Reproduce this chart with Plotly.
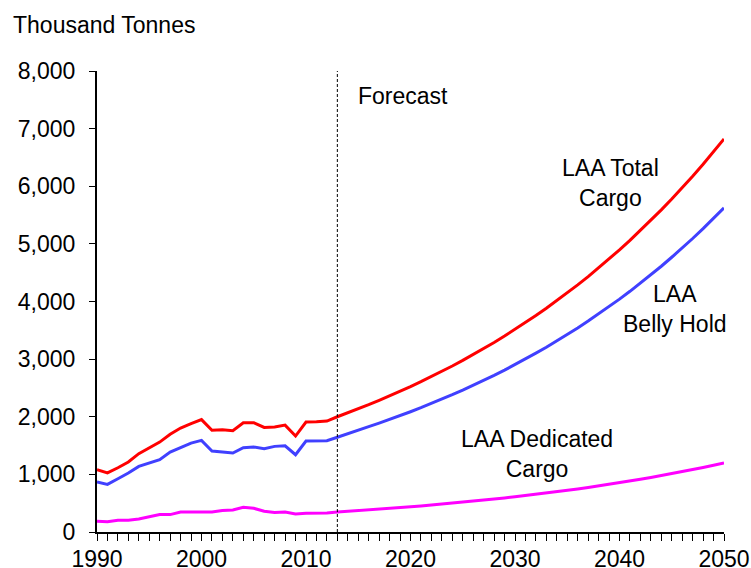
import plotly.graph_objects as go

years = list(range(1990, 2051))

total_cargo = [
    1080, 1025, 1115, 1215, 1360, 1460, 1560, 1695, 1805, 1880,
    1950, 1765, 1775, 1757, 1896, 1896, 1815, 1821, 1855, 1665,
    1908, 1913, 1925,
    2000, 2067, 2137, 2209, 2284, 2361, 2440, 2523, 2608, 2696,
    2787, 2881, 2978, 3078, 3182, 3289, 3400, 3515, 3633, 3756,
    3882, 4013, 4148, 4288, 4433, 4582, 4737, 4896, 5061, 5232,
    5408, 5590, 5779, 5973, 6175, 6383, 6598, 6820,
]

belly_hold = [
    867, 827, 925, 1023, 1139, 1197, 1254, 1387, 1462, 1543,
    1590, 1405, 1387, 1370, 1462, 1474, 1445, 1486, 1497, 1341,
    1578, 1584, 1584,
    1645, 1710, 1768, 1828, 1890, 1953, 2018, 2087, 2157, 2229,
    2304, 2382, 2462, 2544, 2630, 2718, 2809, 2904, 3001, 3103,
    3206, 3314, 3425, 3541, 3660, 3783, 3910, 4041, 4177, 4318,
    4462, 4612, 4768, 4927, 5093, 5264, 5441, 5624,
]

dedicated_cargo = [
    186, 178, 203, 203, 226, 261, 302, 302, 348, 348,
    348, 348, 372, 383, 430, 412, 360, 337, 348, 313,
    325, 325, 331,
    345, 357, 369, 381, 394, 408, 422, 436, 451, 467,
    483, 499, 516, 534, 552, 571, 591, 611, 632, 653,
    676, 699, 723, 747, 773, 799, 827, 855, 884, 914,
    946, 978, 1011, 1046, 1082, 1119, 1157, 1196,
]

forecast_start = 2013
series_names = ["LAA Total<br>Cargo", "LAA<br>Belly Hold", "LAA Dedicated<br>Cargo"]
y_ticks = [0, 1000, 2000, 3000, 4000, 5000, 6000, 7000, 8000]
x_ticks = [1990, 2000, 2010, 2020, 2030, 2040, 2050]

FONT = "Liberation Sans, Arial, sans-serif"
FS = 23

L, R, T, B = 97, 27, 71, 36
W, H = 751, 568
PW, PH = W - L - R, H - T - B

fig = go.Figure()
fig.add_trace(go.Scatter(x=years, y=dedicated_cargo, mode="lines",
                         line=dict(color="#FF00FF", width=3), name="Dedicated"))
fig.add_trace(go.Scatter(x=years, y=belly_hold, mode="lines",
                         line=dict(color="#4040FF", width=3), name="Belly"))
fig.add_trace(go.Scatter(x=years, y=total_cargo, mode="lines",
                         line=dict(color="#FF0000", width=3), name="Total"))

fig.add_shape(type="line", xref="x", yref="y", x0=forecast_start, x1=forecast_start,
              y0=0, y1=8000, line=dict(color="black", width=1, dash="3px,2px"))

ann_font = dict(family=FONT, size=FS, color="black")
fig.add_annotation(x=2014.8, y=7565, text="Forecast", showarrow=False,
                   xanchor="left", yanchor="middle", font=ann_font)
fig.add_annotation(x=2039.1, y=6052, text=series_names[0], showarrow=False,
                   xanchor="center", yanchor="middle", font=ann_font)
fig.add_annotation(x=2045.3, y=3878, text=series_names[1], showarrow=False,
                   xanchor="center", yanchor="middle", font=ann_font)
fig.add_annotation(x=2032.1, y=1357, text=series_names[2], showarrow=False,
                   xanchor="center", yanchor="middle", font=ann_font)
fig.add_annotation(xref="paper", yref="paper", x=(11 - L) / PW, y=(H - B - 25) / PH,
                   text="Thousand Tonnes", showarrow=False,
                   xanchor="left", yanchor="middle", font=ann_font)

fig.update_layout(
    width=W, height=H,
    margin=dict(l=L, r=R, t=T, b=B),
    paper_bgcolor="white", plot_bgcolor="white",
    showlegend=False,
    font=dict(family=FONT, size=FS, color="black"),
)
fig.update_xaxes(
    range=[1990, 2050], tickvals=x_ticks, ticktext=[str(v) for v in x_ticks],
    automargin=False,
    showgrid=False, zeroline=False, showline=True, linecolor="black", linewidth=2,
    ticks="outside", ticklen=7, tickwidth=1, tickcolor="black",
    ticklabelstandoff=-2,
    minor=dict(dtick=1, ticks="outside", ticklen=7, tickwidth=1, tickcolor="black", showgrid=False),
    tickfont=dict(family=FONT, size=FS, color="black"),
)
fig.update_yaxes(
    range=[0, 8000], tickvals=y_ticks, tickformat=",",
    automargin=False,
    showgrid=False, zeroline=False, showline=True, linecolor="black", linewidth=2,
    ticks="outside", ticklen=6, tickwidth=1, tickcolor="black",
    ticklabelstandoff=9,
    tickfont=dict(family=FONT, size=FS, color="black"),
)

fig.write_html(
    "out.html",
    config={"displayModeBar": False},
    post_script="document.body.style.margin='0';document.body.style.padding='0';",
)
